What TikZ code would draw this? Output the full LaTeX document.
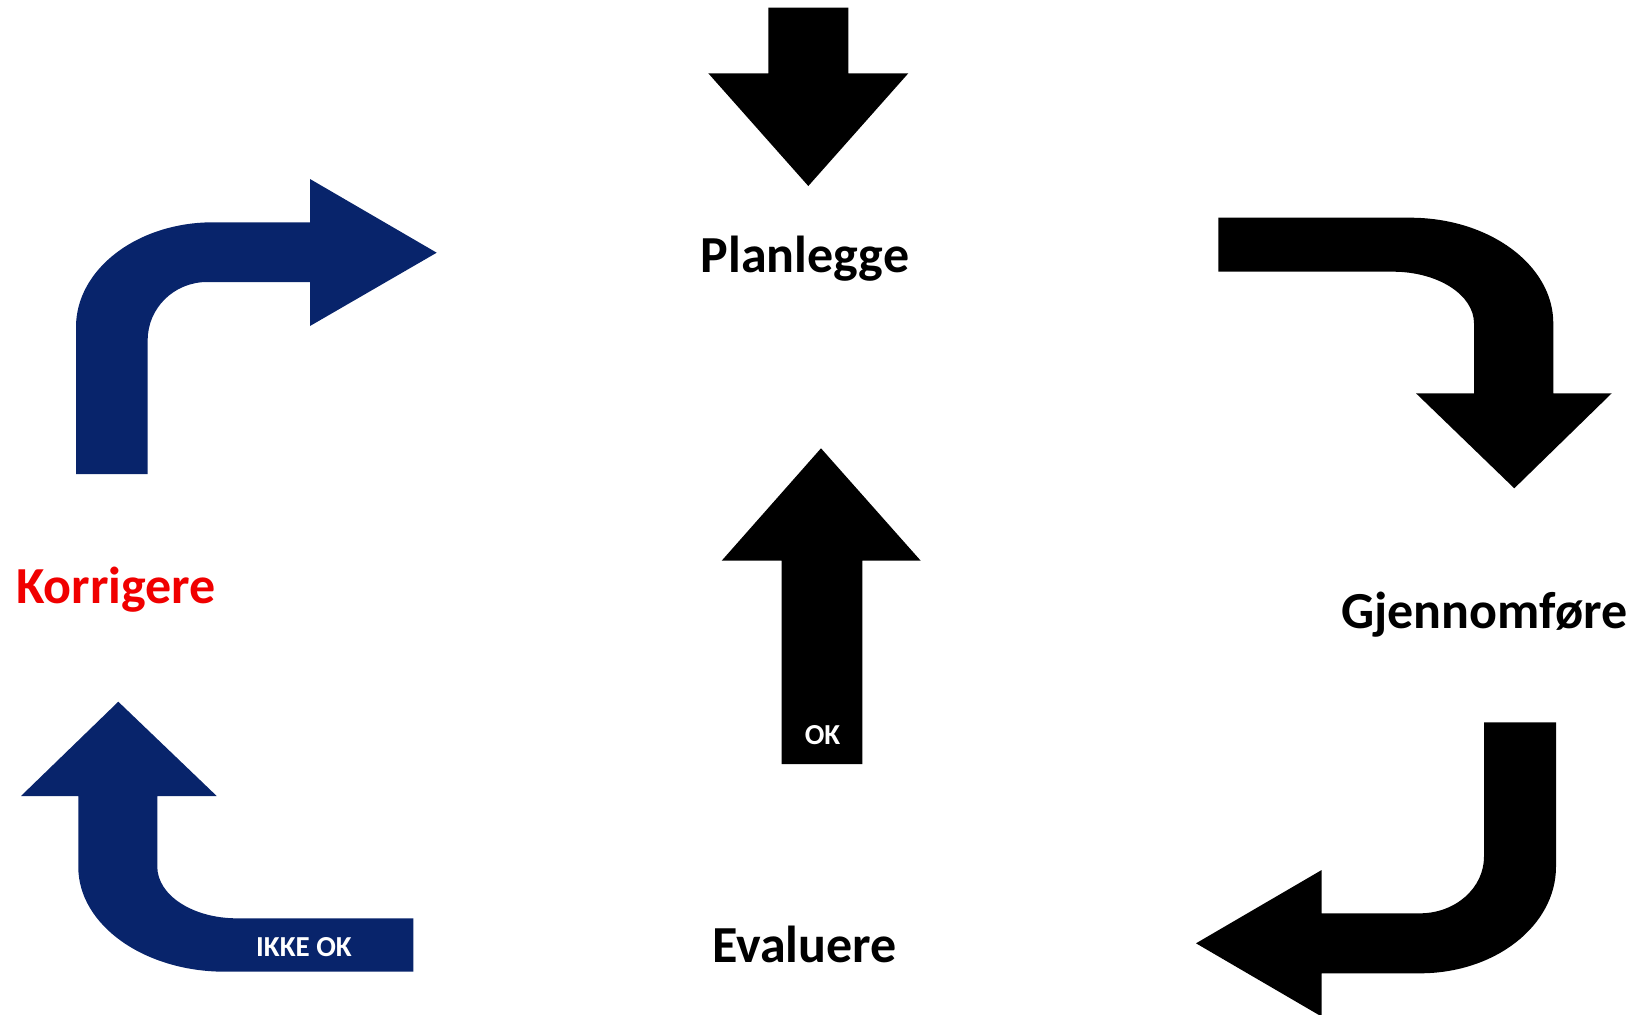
\documentclass[tikz,border=0pt]{standalone}
\usepackage{fontspec}
\setmainfont{Carlito}
\definecolor{navy}{RGB}{8,36,107}
\definecolor{alarm}{RGB}{240,0,0}
\tikzset{
  bluearrow/.style={fill=navy, draw=none},
  blackarrow/.style={fill=black, draw=none},
  stage/.style={font=\fontsize{52}{60}\selectfont\bfseries, anchor=base, inner sep=0pt},
  tag/.style={font=\fontsize{29}{34}\selectfont\bfseries, text=white, anchor=base, inner sep=0pt},
}

\begin{document}
\begin{tikzpicture}[x=1pt,y=-1pt]
\useasboundingbox (0,0) rectangle (1642,1015);
\clip (0,0) rectangle (1642,1015);

% incoming arrow from the top
\fill[blackarrow] (768.3,7.7) -- (848.3,7.7) -- (848.3,73.3) -- (908.3,73.3)
  -- (808.3,186) -- (708.3,73.3) -- (768.3,73.3) -- cycle;

% Planlegge -> Gjennomfore
\fill[blackarrow] (1218.3,217.7) -- (1410,217.7)
  .. controls (1489.1,217.7) and (1553.3,265) .. (1553.3,323.3)
  -- (1553.3,393.3) -- (1611.7,393.3) -- (1514.3,488.3) -- (1416,393.3)
  -- (1474,393.3) -- (1474,323.3)
  .. controls (1474,294.8) and (1437.7,271.7) .. (1393,271.7)
  -- (1218.3,271.7) -- cycle;

% Gjennomfore -> Evaluere
\fill[blackarrow] (1484,722.3) -- (1556,722.3) -- (1556,866.7)
  .. controls (1556,925.6) and (1495.1,973.3) .. (1420,973.3)
  -- (1321.7,973.3) -- (1321.7,1016.6) -- (1196,943.3) -- (1321.7,870)
  -- (1321.7,913.3) -- (1420,913.3)
  .. controls (1455.3,913.3) and (1484,888) .. (1484,856.7) -- cycle;

% Evaluere -> Planlegge (OK)
\fill[blackarrow] (781.7,764) -- (781.7,560.7) -- (721.7,560.7) -- (821,448.3)
  -- (920.7,560.7) -- (862.3,560.7) -- (862.3,764) -- cycle;

% Evaluere -> Korrigere (IKKE OK)
\fill[bluearrow] (413.3,918.3) -- (236.7,918.3)
  .. controls (192.9,918.3) and (157.3,895.2) .. (157.3,866.7)
  -- (157.3,796) -- (216.7,796) -- (118.3,701.7) -- (21,796) -- (78.3,796)
  -- (78.3,867)
  .. controls (78.3,924.8) and (144,971.7) .. (225,971.7)
  -- (413.3,971.7) -- cycle;

% Korrigere -> Planlegge
\fill[bluearrow] (76,474) -- (76,327)
  .. controls (76,269.2) and (137.3,222.3) .. (213,222.3)
  -- (310,222.3) -- (310,179) -- (436.7,252.7) -- (310,326) -- (310,282)
  -- (207,282)
  .. controls (174.2,282) and (147.7,308) .. (147.7,340)
  -- (147.7,474) -- cycle;

% stage labels
\node[stage] (plan) at (805,272) {Planlegge};
\node[stage] (gjen) at (1484.5,628) {Gjennomføre};
\node[stage] (eval) at (804.5,962) {Evaluere};
\node[stage, text=alarm] (korr) at (116,603) {Korrigere};

% decision tags on the arrows
\node[tag] (ok) at (822.5,744) {OK};
\node[tag] (ikke) at (304,956) {IKKE OK};
\end{tikzpicture}
\end{document}
